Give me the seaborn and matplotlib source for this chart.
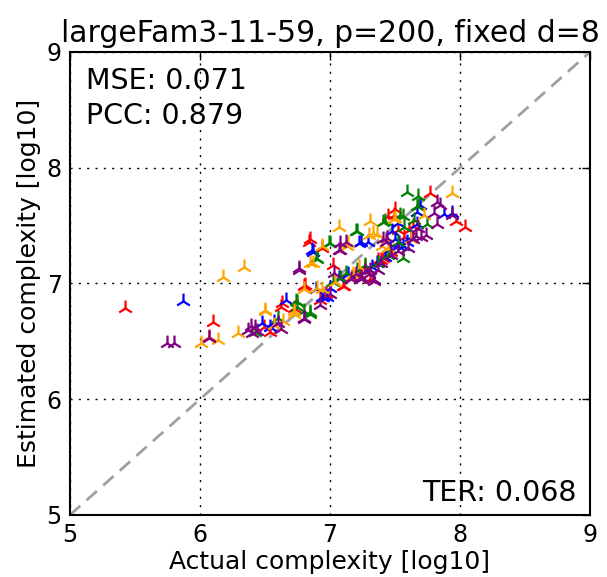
import numpy as np
import pandas as pd
import matplotlib
matplotlib.use("Agg")
import matplotlib.pyplot as plt
import seaborn as sns

red_x = [5.42, 6.10, 6.07, 6.63, 6.62, 6.72, 6.81, 6.80, 6.85, 6.94, 7.02, 7.11, 7.10, 7.31, 7.39,
         7.37, 7.41, 7.45, 7.50, 7.49, 7.52, 7.61, 7.77, 7.97, 8.04, 6.49, 6.54, 7.22, 7.27, 7.47,
         6.97, 7.57, 7.64, 6.92, 7.17, 6.84]
red_y = [6.79, 6.67, 6.54, 6.83, 6.80, 6.79, 6.99, 6.98, 7.38, 7.31, 7.16, 6.98, 6.98, 7.04, 7.20,
         7.20, 7.22, 7.58, 7.64, 7.59, 7.46, 7.46, 7.78, 7.54, 7.49, 6.62, 6.58, 7.08, 7.14, 7.27,
         6.91, 7.40, 7.50, 6.86, 7.06, 7.36]

blue_x = [5.87, 6.48, 6.57, 6.66, 6.89, 6.94, 6.98, 6.95, 6.86, 6.87, 7.07, 7.08, 7.22, 7.24, 7.29,
          7.36, 7.48, 7.50, 7.52, 7.52, 7.53, 7.56, 7.59, 7.67, 7.69, 7.67, 7.88, 7.94, 7.32, 7.42,
          7.00, 6.54, 7.14, 7.46, 7.62]
blue_y = [6.85, 6.66, 6.67, 6.86, 6.95, 6.88, 6.88, 6.88, 7.29, 7.27, 7.05, 7.05, 7.35, 7.36, 7.36,
          7.18, 7.45, 7.38, 7.52, 7.32, 7.35, 7.32, 7.36, 7.51, 7.68, 7.62, 7.60, 7.61, 7.14, 7.23,
          6.96, 6.62, 7.08, 7.30, 7.40]

green_x = [6.75, 6.80, 6.85, 6.74, 6.85, 6.75, 6.89, 6.90, 6.99, 7.00, 7.08, 7.21, 7.20, 7.21, 7.41,
           7.42, 7.45, 7.52, 7.54, 7.56, 7.56, 7.57, 7.59, 7.65, 7.67, 7.68, 7.75, 7.68, 6.60, 7.02,
           7.27, 7.37, 6.42, 7.12]
green_y = [6.84, 6.76, 6.75, 6.85, 6.74, 6.80, 7.22, 7.21, 7.35, 7.35, 7.05, 7.12, 7.45, 7.45, 7.53,
           7.54, 7.25, 7.36, 7.59, 7.58, 7.22, 7.49, 7.79, 7.55, 7.67, 7.76, 7.51, 7.67, 6.70, 7.01,
           7.16, 7.18, 6.58, 7.09]

orange_x = [6.01, 6.14, 6.18, 6.34, 6.29, 6.50, 6.50, 6.72, 6.72, 6.80, 6.85, 6.87, 6.90, 6.94, 7.07,
            7.13, 7.14, 7.18, 7.30, 7.31, 7.33, 7.36, 7.40, 7.45, 7.49, 7.50, 7.62, 7.72, 7.94, 6.57,
            6.64, 7.04, 7.22, 6.94]
orange_y = [6.49, 6.51, 7.06, 7.14, 6.57, 6.76, 6.77, 6.74, 6.76, 6.95, 7.18, 7.18, 6.96, 6.95, 7.49,
            7.32, 7.35, 7.08, 7.42, 7.54, 7.44, 7.43, 7.32, 7.31, 7.56, 7.57, 7.38, 7.59, 7.78, 6.64,
            6.68, 7.01, 7.14, 7.32]

purple_x = [5.75, 5.80, 6.07, 6.39, 6.40, 6.37, 6.44, 6.60, 6.62, 6.76, 6.76, 6.80, 6.80, 6.92, 7.03,
            7.07, 7.08, 7.08, 7.12, 7.16, 7.24, 7.24, 7.27, 7.31, 7.33, 7.34, 7.37, 7.39, 7.41, 7.43,
            7.44, 7.60, 7.64, 7.66, 7.68, 7.70, 7.74, 7.80, 7.82, 7.82, 7.85, 7.94, 7.20, 7.47, 7.52,
            7.00, 7.30, 6.42]
purple_y = [6.49, 6.49, 6.53, 6.63, 6.57, 6.60, 6.59, 6.66, 6.61, 7.12, 7.13, 6.70, 6.69, 6.81, 7.09,
            7.29, 7.29, 7.35, 7.36, 7.04, 7.06, 7.04, 7.11, 7.12, 7.04, 7.02, 7.12, 7.18, 7.38, 7.36,
            7.39, 7.31, 7.38, 7.41, 7.48, 7.40, 7.42, 7.61, 7.70, 7.51, 7.68, 7.59, 7.08, 7.25, 7.28,
            6.91, 7.08, 6.62]

series = ["red", "blue", "green", "orange", "purple"]
colors = {"red": "#ff0000", "blue": "#0000ff", "green": "#008000",
          "orange": "#ffa500", "purple": "#800080"}
title = "largeFam3-11-59, p=200, fixed d=8"
xlabel = "Actual complexity [log10]"
ylabel = "Estimated complexity [log10]"
ticks = [5, 6, 7, 8, 9]
mse_text = "MSE: 0.071"
pcc_text = "PCC: 0.879"
ter_text = "TER: 0.068"

xs = [red_x, blue_x, green_x, orange_x, purple_x]
ys = [red_y, blue_y, green_y, orange_y, purple_y]
frames = []
for name, xv, yv in zip(series, xs, ys):
    frames.append(pd.DataFrame({"actual": xv, "estimated": yv, "group": name}))
df = pd.concat(frames, ignore_index=True)

sns.set_style("white")
plt.rcParams["font.family"] = ["DejaVu Sans"]
plt.rcParams["text.color"] = "black"
plt.rcParams["axes.labelcolor"] = "black"

fig = plt.figure(figsize=(6.07, 5.77), dpi=100)
ax = fig.add_axes([0.1153, 0.1075, 0.8567, 0.8024])

ax.plot([5, 9], [5, 9], linestyle="--", color="#a0a0a0", linewidth=2, dashes=(5, 3), zorder=1)

for name in series:
    sub = df[df["group"] == name]
    sns.scatterplot(data=sub, x="actual", y="estimated", marker="2", s=130,
                    color=colors[name], linewidth=1.6, ax=ax, legend=False, zorder=3)

ax.set_xlim(5, 9)
ax.set_ylim(5, 9)
ax.set_xticks(ticks)
ax.set_yticks(ticks)
ax.grid(True, linestyle=(0, (1.5, 4.5)), color="black", linewidth=1.0)
ax.set_axisbelow(True)
for sp in ax.spines.values():
    sp.set_visible(True)
    sp.set_color("black")
    sp.set_linewidth(1.5)
ax.tick_params(direction="in", length=6, width=1, top=True, right=True,
               labelsize=17, colors="black", pad=6)
ax.set_xlabel(xlabel, fontsize=18, labelpad=2, color="black")
ax.set_ylabel(ylabel, fontsize=18, labelpad=4, color="black")
ax.set_title(title, fontsize=21.5, pad=7, color="black")

ax.text(0.03, 0.967, mse_text, transform=ax.transAxes, fontsize=20.5, va="top", ha="left", color="black")
ax.text(0.03, 0.892, pcc_text, transform=ax.transAxes, fontsize=20.5, va="top", ha="left", color="black")
ax.text(0.975, 0.018, ter_text, transform=ax.transAxes, fontsize=20.5, va="bottom", ha="right", color="black")

fig.savefig("out.png", dpi=100, facecolor="white")
